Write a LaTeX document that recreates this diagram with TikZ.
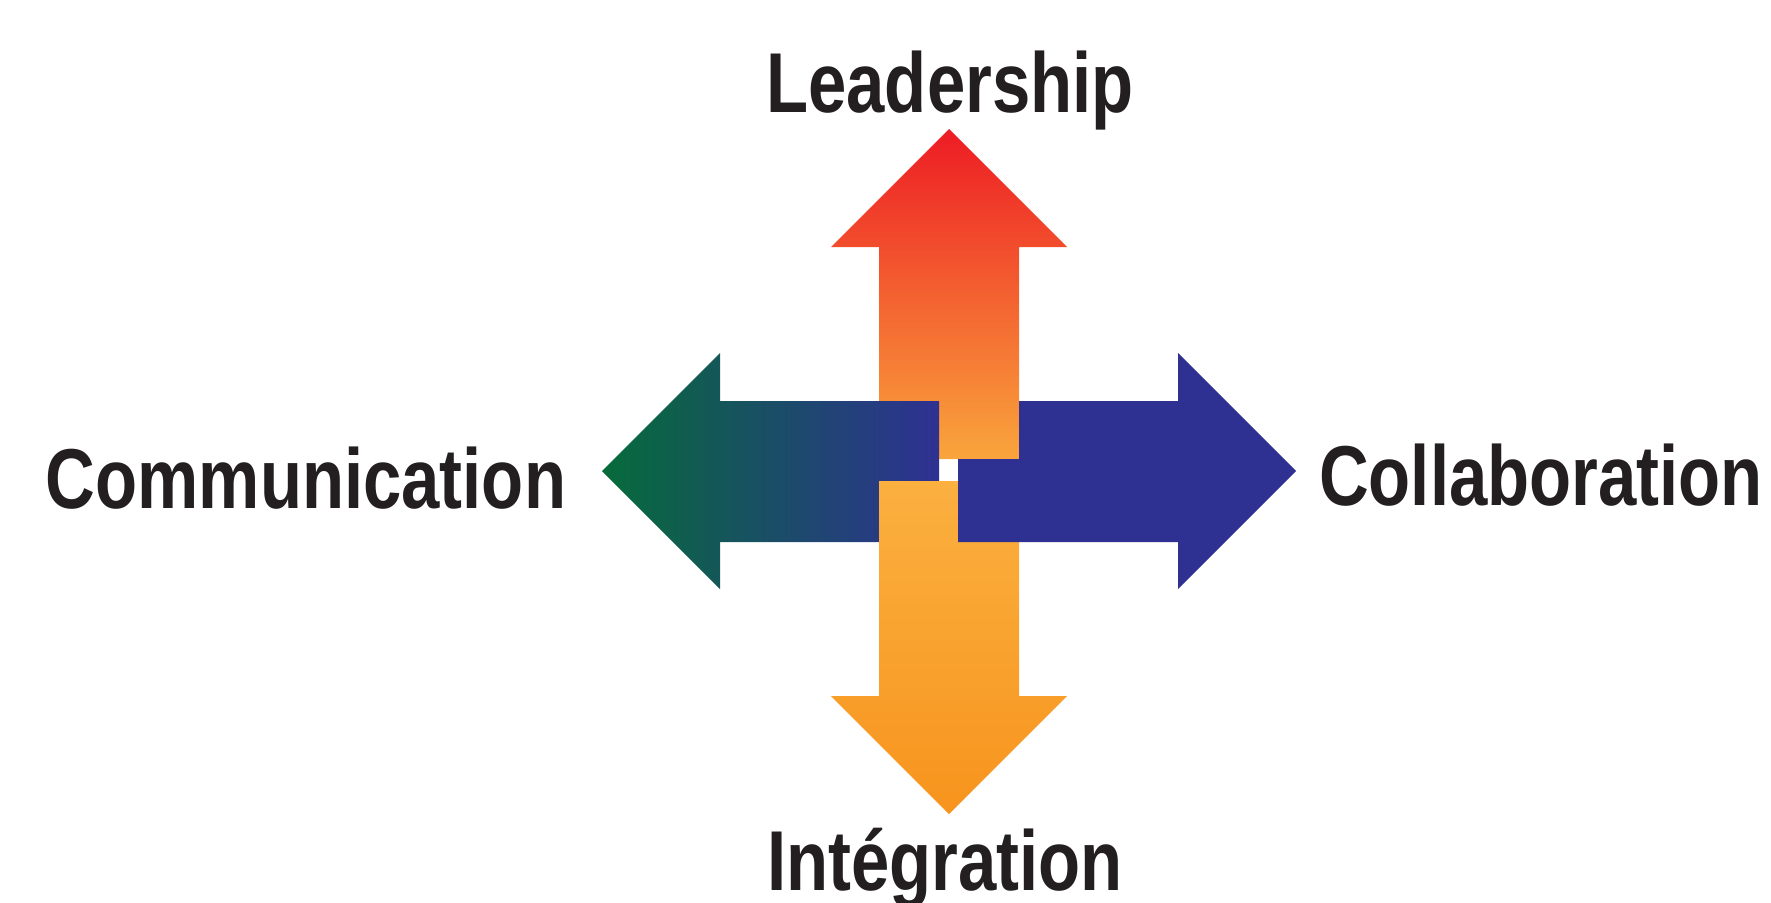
\documentclass[tikz,border=0pt]{standalone}
\usepackage{fontspec}
\newfontfamily\labelfont[FakeStretch=0.81]{Liberation Sans Bold}
\usepackage{tikz}
\definecolor{leadred}{HTML}{ED1C24}
\definecolor{leadlight}{HTML}{F9A53C}
\definecolor{integtop}{HTML}{FBB040}
\definecolor{integbot}{HTML}{F7941D}
\definecolor{commgreen}{HTML}{066B3A}
\definecolor{commteal}{HTML}{175B5C}
\definecolor{collabblue}{HTML}{2E3192}
\definecolor{wordink}{HTML}{231F20}

\begin{document}
\begin{tikzpicture}[x=0.5pt,y=-0.5pt,
  word/.style={font=\labelfont\fontsize{42.5}{50}\selectfont, text=wordink, anchor=base, inner sep=0pt}]
\useasboundingbox (0,0) rectangle (1771,902);
% up arrow
\shade[top color=leadred, bottom color=leadlight] (879,401) -- (879,247) -- (831,247) -- (949,129) -- (1067,247) -- (1019,247) -- (1019,459) -- (939,459) -- (939,401) -- cycle;
% left arrow
\shade[left color=commgreen, middle color=commteal, right color=collabblue] (602,471) -- (720,353) -- (720,401) -- (939,401) -- (939,481) -- (879,481) -- (879,542) -- (720,542) -- (720,589) -- cycle;
% down arrow
\shade[top color=integtop, bottom color=integbot] (879,481) -- (958,481) -- (958,542) -- (1019,542) -- (1019,696) -- (1067,696) -- (949,814) -- (831,696) -- (879,696) -- cycle;
% right arrow
\fill[collabblue] (958,459) -- (1019,459) -- (1019,401) -- (1178,401) -- (1178,353) -- (1296,471) -- (1178,589) -- (1178,542) -- (958,542) -- cycle;
% labels
\node[word] (lead) at (950,112) {Leadership};
\node[word] (comm) at (306,508) {Communication};
\node[word] (collab) at (1541,505) {Collaboration};
\node[word] (integ) at (945,890) {Intégration};
\end{tikzpicture}
\end{document}
